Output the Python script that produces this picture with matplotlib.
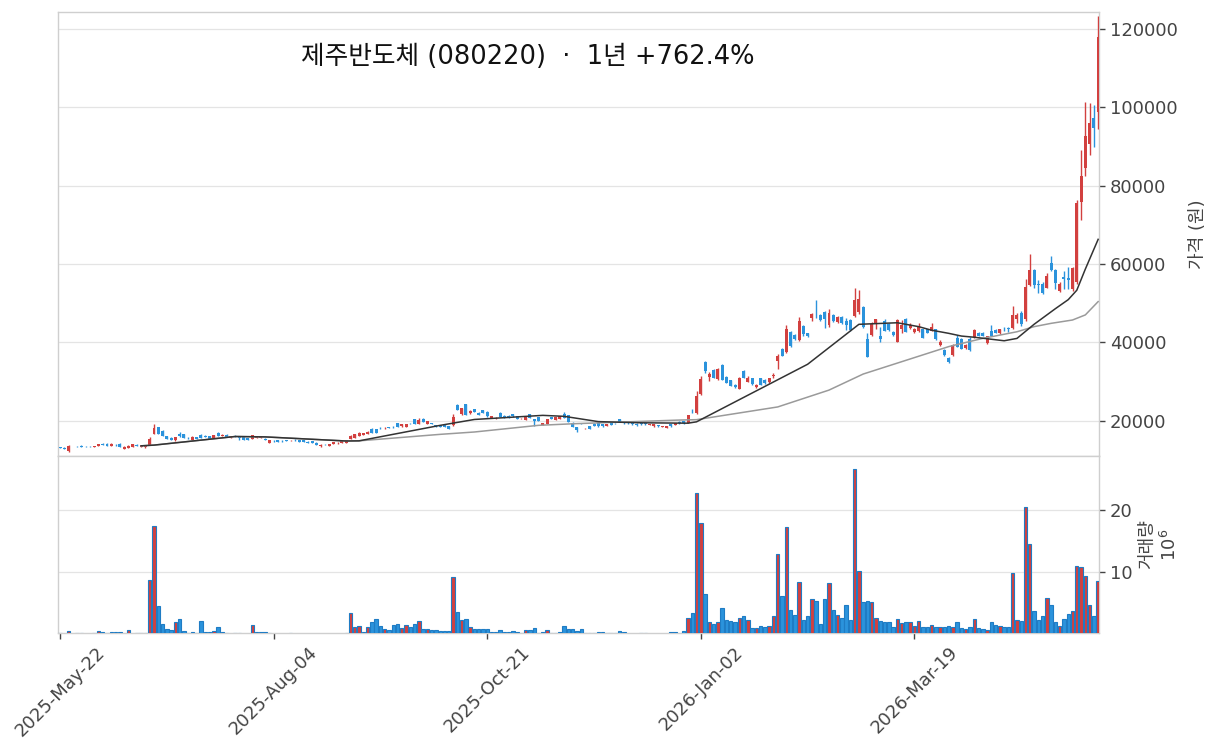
import matplotlib
matplotlib.use('Agg')
import matplotlib.pyplot as plt
import numpy as np

plt.rcParams['font.family'] = ['DejaVu Sans', 'Noto Sans CJK KR']

title = '제주반도체 (080220)  ·  1년 +762.4%'
price_label = '가격 (원)'
volume_label = '거래량\n$10^{6}$'

opens = [
    13200, 13100, 12300, 13000, 13350, 13650, 13350, 13350, 13350, 13450,
    14150, 14150, 13550, 13850, 14150, 12800, 13100, 13300, 13900, 13300,
    13300, 13800, 16700, 18400, 17350, 16000, 15650, 15000, 16700, 16500,
    15550, 15050, 15850, 16450, 16200, 16000, 15650, 16950, 16100, 16450,
    15650, 16200, 15700, 15850, 15600, 15300, 15650, 15500, 15400, 14400,
    14850, 14950, 14850, 15000, 14950, 15050, 15000, 15000, 14650, 14800,
    14400, 13450, 14000, 13600, 14000, 14250, 14300, 14300, 15300, 15600,
    16100, 16350, 16600, 17950, 17800, 18150, 18050, 18250, 18450, 19300,
    18550, 18300, 19350, 20350, 19250, 20500, 19150, 19300, 18900, 18900,
    18800, 18650, 18900, 24100, 21600, 24250, 21900, 22900, 22050, 22700,
    22300, 20600, 20700, 22050, 21300, 21300, 21600, 21100, 20550, 20250,
    21600, 20350, 20850, 18900, 19150, 20950, 20100, 20400, 21800, 21350,
    19500, 18300, 19300, 18000, 18650, 19250, 19400, 19050, 18650, 19400,
    19350, 20350, 19450, 19450, 19500, 19250, 19400, 19300, 19000, 18550,
    18950, 18450, 18050, 19050, 18900, 19750, 19900, 19500, 22500, 22000,
    26800, 34850, 31200, 32950, 30600, 34200, 31250, 30400, 29200, 28200,
    32800, 29900, 30800, 28500, 30800, 30400, 29850, 31300, 35300, 38300,
    37500, 42700, 41850, 40600, 44100, 42300, 46100, 47100, 46950, 47800,
    44300, 46950, 45250, 46500, 45500, 45600, 46700, 47800, 48900, 40850,
    41850, 44850, 41600, 45500, 44650, 42700, 40150, 43300, 45950, 43600,
    42650, 42900, 43300, 43300, 42950, 43300, 39300, 38050, 35900, 36750,
    41000, 40900, 38650, 40900, 41400, 42400, 42400, 39850, 42900, 43200,
    42300, 43450, 43550, 43600, 46000, 47400, 45850, 54600, 58450, 55000,
    54800, 54000, 60200, 58400, 53000, 56600, 56400, 53600, 55500, 75900,
    84400, 90700, 97200, 98900,
]
highs = [
    13300, 13150, 13800, 13100, 13500, 13700, 13450, 13400, 13550, 14000,
    14250, 14200, 14200, 14000, 14200, 13400, 13900, 14000, 13950, 13900,
    13600, 15850, 19250, 18500, 17500, 16100, 15700, 15900, 17050, 16550,
    15700, 15950, 15900, 16500, 16250, 16050, 16300, 17050, 16500, 16500,
    16150, 16250, 15750, 15900, 15650, 16400, 15950, 16050, 15500, 15100,
    15050, 15000, 14950, 15050, 15100, 15200, 15050, 15050, 14700, 14850,
    14450, 13950, 14100, 14150, 14600, 14450, 14850, 15050, 16300, 16600,
    17000, 16900, 17250, 18000, 17850, 18300, 18250, 18350, 18700, 19350,
    19200, 19250, 19450, 20400, 20800, 20550, 19850, 19400, 18950, 18950,
    18850, 18700, 21800, 24200, 23300, 24350, 22600, 23000, 22150, 22800,
    22400, 21150, 20900, 22100, 21350, 21350, 21650, 21150, 20750, 21000,
    21650, 20400, 20900, 19450, 20400, 21000, 21000, 21150, 22100, 21400,
    19550, 18350, 19450, 18200, 18700, 19300, 19450, 19100, 19100, 19450,
    19450, 20400, 19550, 19550, 19550, 19300, 19450, 19350, 19200, 19100,
    19000, 18700, 18700, 19100, 19450, 19800, 19950, 21500, 22900, 27500,
    31300, 35300, 32300, 33300, 33500, 34400, 31400, 30500, 29300, 31200,
    32900, 31400, 31000, 29300, 31000, 30600, 31000, 32200, 37000, 38600,
    44300, 42800, 42000, 46500, 44300, 42500, 47500, 50800, 47200, 47900,
    48500, 47200, 46700, 46700, 46200, 45900, 54000, 53400, 49200, 42400,
    45200, 46000, 43800, 45900, 45000, 42900, 45900, 45800, 46300, 44900,
    43600, 44900, 43500, 43500, 44900, 43400, 40500, 38300, 36300, 39500,
    41800, 41200, 39600, 41300, 43300, 42600, 42600, 41700, 44300, 43500,
    43500, 44000, 44000, 49300, 47500, 48000, 56200, 62500, 58600, 55800,
    55500, 57800, 62000, 58600, 55400, 58300, 59300, 59300, 76300, 89100,
    101400, 101000, 100600, 123300,
]
lows = [
    12900, 12750, 12100, 12900, 13150, 13250, 13200, 13250, 13300, 13400,
    13750, 13500, 13500, 13650, 13200, 12700, 13000, 13250, 13500, 13250,
    13100, 13700, 16500, 16600, 16000, 15350, 15000, 14900, 15850, 15500,
    15300, 15000, 15300, 15600, 15800, 15350, 15600, 16050, 16050, 15850,
    15600, 15700, 15150, 15000, 15100, 15250, 15600, 15450, 15050, 14350,
    14600, 14500, 14650, 14850, 14900, 14900, 14500, 14500, 14250, 14350,
    13750, 13300, 13850, 13550, 13950, 14150, 14250, 14250, 15200, 15550,
    16000, 16300, 16550, 16900, 16800, 17950, 17900, 18000, 18200, 18400,
    18500, 18250, 19150, 19100, 19200, 19600, 19100, 19150, 18500, 18400,
    18250, 17900, 18700, 22600, 21500, 21500, 21800, 22150, 21400, 21900,
    21050, 20550, 20500, 20900, 20700, 20550, 21050, 20350, 20450, 20200,
    20700, 18700, 19850, 18850, 19100, 20300, 20050, 20350, 20700, 19700,
    18450, 17200, 19100, 17900, 17850, 18600, 18500, 18500, 18600, 18900,
    19150, 19700, 19250, 19250, 19000, 18750, 19000, 19000, 18900, 18500,
    18500, 18400, 18000, 18500, 18850, 19250, 19250, 19450, 22000, 21800,
    26500, 32200, 30100, 30800, 30500, 30300, 29500, 28800, 28400, 28100,
    30900, 29800, 29100, 28300, 29000, 29400, 29700, 31000, 33300, 36400,
    37300, 38900, 40600, 40400, 41700, 41300, 45500, 46100, 45500, 43600,
    44000, 45300, 45000, 44800, 43100, 43000, 46500, 47300, 43700, 36200,
    41600, 43500, 40200, 42900, 42900, 41700, 40000, 42400, 42600, 43400,
    42400, 42700, 41000, 42300, 42800, 40700, 39100, 36600, 34700, 36500,
    38700, 38200, 38400, 37800, 41200, 41600, 41600, 39700, 41600, 42300,
    42200, 43000, 42600, 43300, 44900, 44200, 45500, 54300, 54000, 52500,
    52300, 53800, 58300, 53500, 52800, 53500, 53500, 53000, 55000, 71200,
    82500, 87800, 90000, 94600,
]
closes = [
    13000, 12800, 13400, 12950, 13300, 13300, 13300, 13300, 13450, 13950,
    13800, 13550, 14150, 13800, 13300, 13300, 13600, 13950, 13550, 13800,
    13550, 15250, 18200, 16700, 16100, 15400, 15050, 15850, 16100, 15600,
    15500, 15900, 15350, 15650, 15850, 15400, 16250, 16100, 16450, 15900,
    16100, 15750, 15650, 15050, 15150, 16350, 15900, 16000, 15100, 15000,
    14800, 14550, 14800, 14900, 15000, 15000, 14550, 14550, 14300, 14400,
    13800, 13900, 13950, 14100, 14550, 14300, 14800, 15000, 16200, 16500,
    16900, 16850, 17200, 16950, 16850, 18100, 18100, 18200, 18400, 18450,
    19150, 19200, 19300, 19150, 20250, 19650, 19800, 19250, 18550, 18450,
    18300, 17950, 21000, 22700, 23200, 21550, 22550, 22200, 21450, 21950,
    21100, 21100, 20800, 20950, 20750, 20600, 21100, 20400, 20650, 20950,
    20750, 19900, 19900, 19400, 20350, 20350, 20950, 21100, 20750, 19750,
    18500, 17550, 19250, 18100, 17900, 18650, 18550, 18550, 19050, 18950,
    19300, 19750, 19400, 19400, 19050, 18800, 19050, 19050, 19100, 19050,
    18550, 18650, 18650, 18550, 19400, 19300, 19300, 21350, 22450, 26400,
    30700, 32600, 31850, 30950, 33300, 30400, 29650, 28950, 28600, 31000,
    31000, 30900, 29300, 29100, 29200, 29600, 30800, 31600, 36500, 36500,
    43350, 39050, 40800, 45500, 42200, 41600, 47300, 46900, 45700, 45850,
    47400, 45500, 46500, 45000, 44500, 43150, 50800, 51000, 43850, 36350,
    44650, 45850, 40750, 42950, 43150, 41850, 45700, 44300, 42750, 44400,
    43300, 44200, 41050, 42450, 43850, 40800, 40200, 36750, 35100, 39300,
    38900, 38300, 39350, 38000, 43250, 41700, 41700, 41600, 41700, 42400,
    43400, 43400, 43500, 46900, 46900, 44800, 54200, 58450, 54600, 54600,
    52600, 57000, 58500, 55100, 55000, 56200, 56000, 58900, 75500, 82500,
    92700, 96000, 94800, 117900,
]
volumes_m = [
    0.15, 0.10, 0.50, 0.10, 0.20, 0.20, 0.05, 0.05, 0.20, 0.50,
    0.40, 0.20, 0.40, 0.40, 0.40, 0.05, 0.70, 0.05, 0.20, 0.20,
    0.20, 8.7, 17.4, 4.5, 1.7, 0.9, 0.7, 2.0, 2.5, 0.5,
    0.2, 0.3, 0.2, 2.2, 0.4, 0.3, 0.5, 1.2, 0.3, 0.2,
    0.1, 0.15, 0.15, 0.05, 0.05, 1.5, 0.4, 0.4, 0.3, 0.25,
    0.05, 0.05, 0.05, 0.1, 0.2, 0.1, 0.05, 0.05, 0.05, 0.05,
    0.05, 0.05, 0.02, 0.05, 0.05, 0.02, 0.1, 0.2, 3.5, 1.15,
    1.3, 0.4, 1.15, 2.0, 2.5, 1.3, 0.9, 0.65, 1.5, 1.7,
    1.0, 1.5, 1.2, 1.7, 2.2, 0.9, 0.8, 0.65, 0.65, 0.55,
    0.45, 0.55, 9.3, 3.6, 2.3, 2.5, 1.15, 0.9, 0.9, 0.9,
    0.9, 0.3, 0.3, 0.7, 0.4, 0.4, 0.55, 0.35, 0.2, 0.7,
    0.7, 1.0, 0.2, 0.4, 0.7, 0.2, 0.2, 0.4, 1.35, 0.9,
    0.9, 0.5, 0.9, 0.15, 0.2, 0.2, 0.35, 0.35, 0.15, 0.2,
    0.2, 0.5, 0.3, 0.1, 0.05, 0.05, 0.15, 0.15, 0.05, 0.05,
    0.05, 0.05, 0.05, 0.3, 0.3, 0.1, 0.5, 2.7, 3.5, 22.8,
    18.0, 6.5, 2.0, 1.65, 1.9, 4.2, 2.3, 2.1, 1.9, 2.65,
    2.9, 2.3, 1.05, 1.0, 1.3, 1.1, 1.3, 2.9, 13.0, 6.2,
    17.3, 3.9, 3.1, 8.5, 2.3, 2.9, 5.7, 5.4, 1.65, 5.7,
    8.2, 3.9, 3.1, 2.6, 4.75, 2.3, 26.6, 10.2, 5.2, 5.4,
    5.2, 2.65, 2.1, 1.9, 1.9, 1.1, 2.4, 1.8, 1.9, 1.9,
    1.3, 2.1, 1.15, 1.1, 1.5, 1.15, 1.15, 1.2, 1.4, 1.1,
    1.9, 0.97, 0.84, 1.15, 2.45, 0.97, 0.84, 0.65, 1.9, 1.5,
    1.3, 1.1, 1.1, 9.9, 2.25, 2.1, 20.6, 14.5, 3.7, 2.25,
    2.9, 5.8, 4.7, 1.9, 1.3, 2.45, 3.2, 3.7, 11.0, 10.8,
    9.35, 4.7, 3.0, 8.6,
]

# moving-average lines (bar index, value)
ma_dark_idx = [19, 22, 41, 48, 67, 70, 89, 97, 113, 118, 126, 136, 147, 149,
               175, 187, 196, 201, 204, 208, 211, 214, 221, 224, 228, 233,
               236, 238, 240, 243]
ma_dark_val = [13570, 13750, 15950, 15850, 14800, 14840, 18800, 20300, 21350,
               21100, 19750, 19450, 19350, 19700, 34400, 44600, 45000, 44000,
               43100, 42300, 41600, 41300, 40400, 41000, 44600, 48600, 50900,
               53300, 58700, 66300]
ma_light_idx = [19, 22, 41, 48, 67, 70, 89, 97, 112, 120, 145, 149, 168, 180,
                188, 197, 208, 211, 216, 224, 228, 232, 237, 240, 243]
ma_light_val = [13570, 13750, 15950, 15850, 14800, 14840, 16500, 17100, 18800,
                19200, 20150, 20250, 23500, 27800, 31900, 35050, 38900, 39700,
                41000, 42700, 44000, 44850, 45700, 47000, 50400]

tick_pos = [0, 50, 100, 150, 200]
tick_labels = ['2025-May-22', '2025-Aug-04', '2025-Oct-21', '2026-Jan-02', '2026-Mar-19']
price_ticks = [20000, 40000, 60000, 80000, 100000, 120000]
vol_ticks = [10, 20]

UP = '#d2403f'
DOWN = '#2b93dc'
VOL_EDGE = '#1f7cc4'
SPINE = '#cfcfcf'
GRID = '#e4e4e4'
TXT = '#444444'

o = np.array(opens, float)
h = np.array(highs, float)
l = np.array(lows, float)
c = np.array(closes, float)
v = np.array(volumes_m, float)
x = np.arange(len(c))
up = c >= o
cols = np.where(up, UP, DOWN)

W, H = 1214, 752
fig = plt.figure(figsize=(W / 100, H / 100), dpi=100)
L, R = 58, 1099
ax = fig.add_axes([L / W, 1 - 456 / H, (R - L) / W, (456 - 12) / H])
axv = fig.add_axes([L / W, 1 - 633 / H, (R - L) / W, (633 - 456) / H], sharex=ax)

ax.vlines(x, l, h, colors=cols, linewidth=1.0, zorder=3)
ax.bar(x, np.maximum(np.abs(c - o), 80), bottom=np.minimum(o, c), width=0.7,
       color=cols, linewidth=0, zorder=4)
ax.plot(ma_light_idx, ma_light_val, color='#9a9a9a', linewidth=1.1, zorder=5)
ax.plot(ma_dark_idx, ma_dark_val, color='#333333', linewidth=1.1, zorder=6)

axv.bar(x, v, width=0.8, color=cols, edgecolor=VOL_EDGE, linewidth=0.8, zorder=3)

ax.set_xlim(-0.47, 243.2)
ax.set_ylim(10970, 124360)
axv.set_ylim(0.2, 28.76)

for a in (ax, axv):
    a.set_facecolor('white')
    for s in a.spines.values():
        s.set_color(SPINE)
        s.set_linewidth(1.0)
    a.yaxis.tick_right()
    a.yaxis.set_label_position('right')
    a.grid(axis='y', color=GRID, linewidth=0.9, zorder=0)
    a.grid(axis='x', visible=False)
    a.set_axisbelow(True)
    a.tick_params(axis='y', direction='out', length=4, width=1, color=TXT,
                  labelcolor=TXT, labelsize=13, pad=4)

ax.set_yticks(price_ticks)
ax.set_yticklabels([str(t) for t in price_ticks])
axv.set_yticks(vol_ticks)
axv.set_yticklabels([str(t) for t in vol_ticks])

ax.tick_params(axis='x', bottom=False, labelbottom=False)
axv.set_xticks(tick_pos)
axv.set_xticklabels(tick_labels, rotation=45, ha='center')
axv.tick_params(axis='x', direction='out', length=4, width=1, color=TXT,
                labelcolor=TXT, labelsize=13)

ax.set_ylabel(price_label, color=TXT, fontsize=13, labelpad=8)
axv.set_ylabel(volume_label, color=TXT, fontsize=13, labelpad=4)

fig.text(0.435, 0.924, title, ha='center', va='center', fontsize=18.5, color='#111111')

fig.savefig('out.png', dpi=100, facecolor='white')
